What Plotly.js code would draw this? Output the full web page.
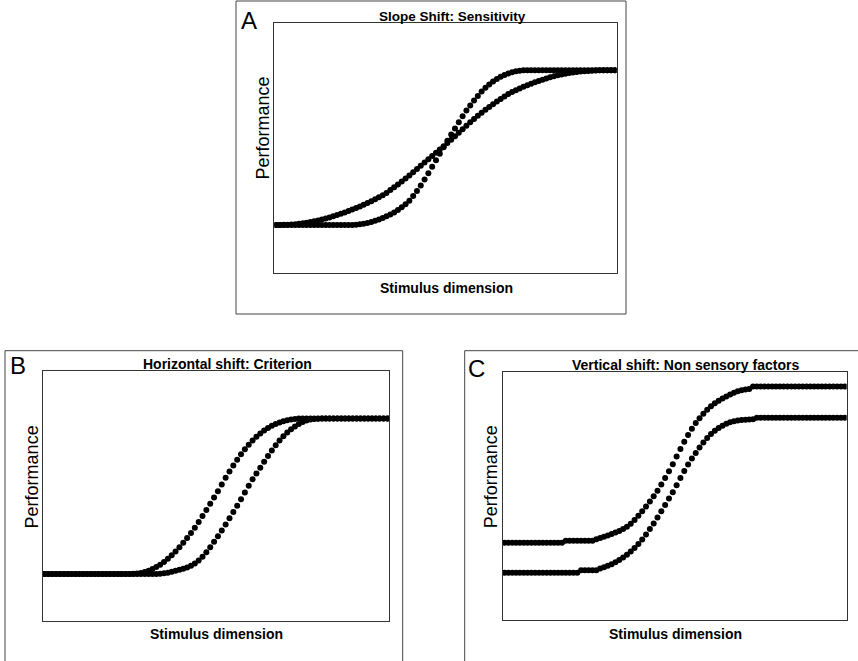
<!DOCTYPE html>
<html>
<head>
<meta charset="utf-8">
<script src="https://cdn.plot.ly/plotly-3.0.1.min.js"></script>
<style>html,body{margin:0;padding:0;background:#fff;}#chart{width:858px;height:661px;}</style>
</head>
<body>
<div id="chart"></div>
<script>
// Stimulus levels (index along the stimulus dimension)
const stimulus = [0,1,2,3,4,5,6,7,8,9,10,11,12,13,14,15,16,17,18,19,20,21,22,23,24,25,26,27,28,29,
30,31,32,33,34,35,36,37,38,39,40,41,42,43,44,45,46,47,48,49,50,51,52,53,54,55,56,57,58,59,
60,61,62,63,64,65,66,67,68,69,70,71,72,73,74,75,76,77,78,79,80,81,82,83,84,85,86,87,88,89];

// Panel A: slope shift (performance, 0-1)
const aSteep = [0.193,0.193,0.193,0.193,0.193,0.193,0.193,0.193,0.193,0.193,0.193,0.193,0.193,0.193,0.193,0.193,0.193,0.193,0.193,0.193,
0.193,0.194,0.196,0.198,0.201,0.205,0.210,0.215,0.221,0.228,0.235,0.243,0.253,0.264,0.276,0.290,0.308,0.328,0.350,0.374,
0.399,0.425,0.451,0.477,0.503,0.529,0.554,0.578,0.603,0.627,0.650,0.670,0.690,0.708,0.725,0.740,0.753,0.765,0.775,0.784,
0.791,0.797,0.802,0.806,0.808,0.810,0.810,0.810,0.810,0.810,0.810,0.810,0.810,0.810,0.810,0.810,0.810,0.810,0.810,0.810,
0.810,0.810,0.810,0.810,0.810,0.810,0.810,0.810,0.810,0.810];
const aShallow = [0.193,0.193,0.194,0.194,0.195,0.196,0.198,0.200,0.202,0.205,0.208,0.211,0.215,0.219,0.223,0.228,0.233,0.238,0.243,0.249,
0.255,0.261,0.267,0.274,0.281,0.288,0.295,0.303,0.311,0.320,0.332,0.343,0.354,0.366,0.378,0.390,0.403,0.416,0.429,0.442,
0.455,0.468,0.481,0.494,0.507,0.520,0.533,0.547,0.561,0.575,0.589,0.603,0.616,0.629,0.641,0.653,0.664,0.675,0.686,0.696,
0.706,0.715,0.723,0.730,0.737,0.744,0.750,0.756,0.762,0.767,0.772,0.777,0.782,0.786,0.790,0.793,0.796,0.799,0.801,0.803,
0.805,0.806,0.807,0.808,0.809,0.810,0.810,0.810,0.810,0.810];

// Panel B: horizontal shift
const bLeft = [0.187,0.187,0.187,0.187,0.187,0.187,0.187,0.187,0.187,0.187,0.187,0.187,0.187,0.187,0.187,0.187,0.187,0.187,0.187,0.187,
0.187,0.187,0.187,0.188,0.189,0.191,0.195,0.200,0.207,0.215,0.224,0.235,0.248,0.262,0.277,0.294,0.312,0.331,0.351,0.372,
0.395,0.419,0.443,0.468,0.493,0.518,0.545,0.572,0.598,0.622,0.645,0.667,0.687,0.705,0.722,0.737,0.750,0.762,0.772,0.781,
0.788,0.794,0.799,0.803,0.806,0.808,0.810,0.810,0.810,0.810,0.810,0.810,0.810,0.810,0.810,0.810,0.810,0.810,0.810,0.810,
0.810,0.810,0.810,0.810,0.810,0.810,0.810,0.810,0.810,0.810];
const bRight = [0.187,0.187,0.187,0.187,0.187,0.187,0.187,0.187,0.187,0.187,0.187,0.187,0.187,0.187,0.187,0.187,0.187,0.187,0.187,0.187,
0.187,0.187,0.187,0.187,0.187,0.187,0.187,0.187,0.187,0.187,0.188,0.190,0.192,0.196,0.200,0.204,0.208,0.213,0.220,0.229,
0.241,0.256,0.274,0.294,0.316,0.338,0.361,0.385,0.410,0.435,0.460,0.486,0.513,0.540,0.566,0.590,0.613,0.637,0.660,0.682,
0.703,0.722,0.739,0.754,0.767,0.778,0.788,0.796,0.802,0.806,0.808,0.809,0.810,0.810,0.810,0.810,0.810,0.810,0.810,0.810,
0.810,0.810,0.810,0.810,0.810,0.810,0.810,0.810,0.810,0.810];

// Panel C: vertical shift
const cUpper = [0.311,0.311,0.311,0.311,0.311,0.311,0.311,0.311,0.311,0.311,0.311,0.311,0.311,0.311,0.311,0.311,0.319,0.319,0.319,0.319,
0.319,0.319,0.319,0.319,0.325,0.330,0.335,0.340,0.346,0.352,0.358,0.366,0.376,0.388,0.403,0.420,0.438,0.457,0.477,0.498,
0.521,0.546,0.572,0.599,0.627,0.658,0.689,0.718,0.745,0.770,0.793,0.813,0.831,0.847,0.861,0.873,0.883,0.892,0.900,0.908,
0.915,0.921,0.925,0.928,0.930,0.940,0.940,0.940,0.940,0.940,0.940,0.940,0.940,0.940,0.940,0.940,0.940,0.940,0.940,0.940,
0.940,0.940,0.940,0.940,0.940,0.940,0.940,0.940,0.940,0.940];
const cLower = [0.190,0.190,0.190,0.190,0.190,0.190,0.190,0.190,0.190,0.190,0.190,0.190,0.190,0.190,0.190,0.190,0.190,0.190,0.190,0.190,
0.200,0.200,0.200,0.200,0.200,0.207,0.212,0.218,0.225,0.233,0.242,0.252,0.263,0.276,0.290,0.306,0.324,0.344,0.366,0.389,
0.413,0.438,0.463,0.489,0.515,0.543,0.572,0.600,0.626,0.650,0.673,0.695,0.715,0.733,0.749,0.762,0.773,0.782,0.790,0.796,
0.800,0.803,0.805,0.806,0.807,0.808,0.815,0.815,0.815,0.815,0.815,0.815,0.815,0.815,0.815,0.815,0.815,0.815,0.815,0.815,
0.815,0.815,0.815,0.815,0.815,0.815,0.815,0.815,0.815,0.815];

const panelTitles = ["Slope Shift: Sensitivity", "Horizontal shift: Criterion", "Vertical shift: Non sensory factors"];
const panelLetters = ["A", "B", "C"];
const xLabel = "Stimulus dimension";
const yLabel = "Performance";

const W = 858, H = 661;
const px = v => v / W;
const py = v => 1 - v / H;

const dotStyle = {color: '#000', size: 6};
function tr(y, xa, ya) {
  return {x: stimulus, y: y, xaxis: xa, yaxis: ya, type: 'scatter', mode: 'markers',
          marker: dotStyle, hoverinfo: 'skip', showlegend: false, cliponaxis: true};
}
const data = [
  tr(aSteep, 'x', 'y'), tr(aShallow, 'x', 'y'),
  tr(bLeft, 'x2', 'y2'), tr(bRight, 'x2', 'y2'),
  tr(cUpper, 'x3', 'y3'), tr(cLower, 'x3', 'y3')
];

function ax(domain, range) {
  return {domain: domain, range: range, showline: true, mirror: true, linecolor: '#333', linewidth: 1,
          showgrid: false, zeroline: false, showticklabels: false, ticks: '', fixedrange: true};
}

const boxes = [[274.3, 616.7, 22.7, 273.3], [42.7, 389.3, 371, 620.7], [502.7, 846.7, 371.7, 620]];
const xr = [-0.5, 89.5], yr = [0, 1];

const ann = [];
function txt(t, x, y, size, bold, angle) {
  ann.push({text: bold ? '<b>' + t + '</b>' : t, x: px(x), y: py(y), xref: 'paper', yref: 'paper',
            xanchor: 'center', yanchor: 'middle', showarrow: false, textangle: angle || 0,
            font: {family: 'Liberation Sans, Arial, sans-serif', size: size, color: '#000'}});
}
// titles
txt(panelTitles[0], 452.7, 16.4, 13.5, true);
txt(panelTitles[1], 227.2, 363.8, 14, true);
txt(panelTitles[2], 685.2, 365, 14, true);
// x labels
txt(xLabel, 446.7, 287.5, 14, true);
txt(xLabel, 216.2, 634.2, 14, true);
txt(xLabel, 675, 634.2, 14, true);
// y labels
txt(yLabel, 263.3, 128.3, 18, false, -90);
txt(yLabel, 31.7, 476.7, 18, false, -90);
txt(yLabel, 490.8, 476.5, 18, false, -90);
// letters
txt(panelLetters[0], 248.7, 20.5, 24, false);
txt(panelLetters[1], 18, 365.7, 24, false);
txt(panelLetters[2], 476.7, 368.3, 24, false);

const frames = [[236, 626, 1, 314], [5, 402.7, 350.7, 662], [464.7, 860, 350.7, 662]].map(f => ({
  type: 'rect', xref: 'paper', yref: 'paper', x0: px(f[0]), x1: px(f[1]), y0: py(f[3]), y1: py(f[2]),
  line: {color: '#444', width: 1}, fillcolor: 'rgba(0,0,0,0)', layer: 'below'
}));

const layout = {
  width: W, height: H, margin: {l: 0, r: 0, t: 0, b: 0}, paper_bgcolor: '#fff', plot_bgcolor: '#fff',
  showlegend: false,
  xaxis: ax([px(boxes[0][0]), px(boxes[0][1])], xr), yaxis: ax([py(boxes[0][3]), py(boxes[0][2])], yr),
  xaxis2: Object.assign(ax([px(boxes[1][0]), px(boxes[1][1])], xr), {anchor: 'y2'}),
  yaxis2: Object.assign(ax([py(boxes[1][3]), py(boxes[1][2])], yr), {anchor: 'x2'}),
  xaxis3: Object.assign(ax([px(boxes[2][0]), px(boxes[2][1])], xr), {anchor: 'y3'}),
  yaxis3: Object.assign(ax([py(boxes[2][3]), py(boxes[2][2])], yr), {anchor: 'x3'}),
  annotations: ann, shapes: frames
};
layout.xaxis.anchor = 'y'; layout.yaxis.anchor = 'x';

Plotly.newPlot('chart', data, layout, {displayModeBar: false, staticPlot: true});
</script>
</body>
</html>
